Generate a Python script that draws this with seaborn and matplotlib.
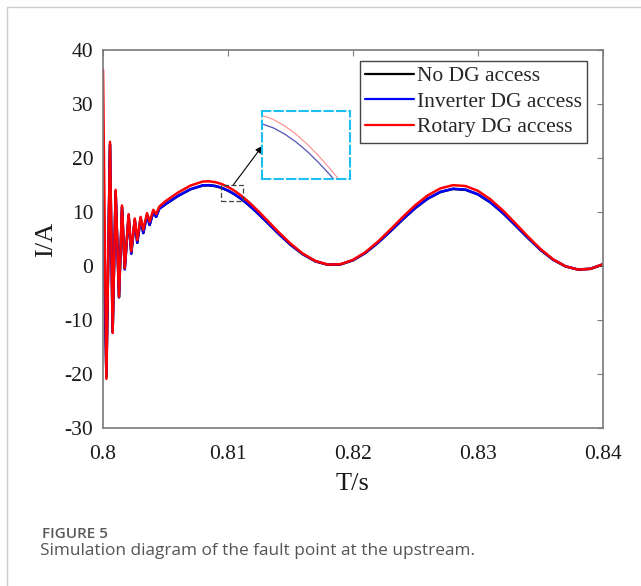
import numpy as np
import pandas as pd
import seaborn as sns
import matplotlib.pyplot as plt
from matplotlib.patches import Rectangle
from matplotlib.lines import Line2D

# 故障后暂态段
t_tr = [0.80000, 0.80027, 0.80056, 0.80077, 0.80101, 0.80128, 0.80152, 0.80174,
        0.80205, 0.80226, 0.80254, 0.80274, 0.80301, 0.80322, 0.80352, 0.80373,
        0.80402, 0.80425, 0.80450]
red_tr = [36.3, -20.9, 23.0, -12.4, 14.1, -5.7, 11.2, -0.4, 9.6, 2.7, 8.8, 4.8,
          9.1, 6.7, 9.8, 8.2, 10.4, 9.6, 11.0]
blue_tr = [13.3, -20.5, 22.5, -12.2, 13.8, -5.8, 10.9, -0.6, 9.3, 2.3, 8.5, 4.3,
           8.8, 6.1, 9.4, 7.6, 10.0, 9.1, 10.6]
black_tr = [13.3, -20.5, 22.5, -12.2, 13.8, -5.8, 10.9, -0.6, 9.3, 2.3, 8.5, 4.3,
            8.8, 6.1, 9.4, 7.6, 10.0, 9.1, 10.6]

# 稳态段
t_main = [0.805, 0.806, 0.807, 0.808, 0.8085, 0.809, 0.8095, 0.810, 0.8105, 0.811,
          0.8115, 0.812, 0.8125, 0.813, 0.814,
          0.815, 0.816, 0.817, 0.818, 0.819, 0.820, 0.821, 0.822, 0.823, 0.824,
          0.825, 0.826, 0.827, 0.828, 0.829, 0.830, 0.831, 0.832, 0.833, 0.834,
          0.835, 0.836, 0.837, 0.838, 0.839, 0.840]
red_main = [12.0, 13.6, 14.9, 15.65, 15.68, 15.52, 15.17, 14.64, 13.96, 13.13,
            12.17, 11.11, 9.98, 8.79, 6.39,
            4.15, 2.28, 0.92, 0.26, 0.33, 1.13, 2.58, 4.53, 6.78, 9.11,
            11.3, 13.11, 14.38, 14.97, 14.81, 13.91, 12.34, 10.27, 7.89, 5.44,
            3.15, 1.26, -0.05, -0.67, -0.52, 0.34]
blue_main = [11.46, 12.99, 14.23, 14.95, 14.97, 14.82, 14.49, 13.98, 13.33, 12.54,
             11.62, 10.61, 9.53, 8.39, 6.10,
             3.96, 2.18, 0.88, 0.25, 0.32, 1.08, 2.46, 4.33, 6.47, 8.70,
             10.79, 12.52, 13.73, 14.30, 14.14, 13.28, 11.78, 9.81, 7.53, 5.20,
             3.01, 1.20, -0.05, -0.64, -0.50, 0.32]
black_main = [11.43, 12.96, 14.20, 14.92, 14.94, 14.79, 14.46, 13.95, 13.30, 12.51,
              11.59, 10.58, 9.50, 8.36, 6.07,
              3.93, 2.15, 0.85, 0.22, 0.29, 1.05, 2.43, 4.30, 6.44, 8.67,
              10.76, 12.49, 13.70, 14.27, 14.11, 13.25, 11.75, 9.78, 7.50, 5.17,
              2.98, 1.17, -0.08, -0.67, -0.53, 0.29]

labels = ['No DG access', 'Inverter DG access', 'Rotary DG access']
colors = ['black', '#0000ff', '#ff0000']
x_ticks = [0.80, 0.81, 0.82, 0.83, 0.84]
x_ticklabels = ['0.8', '0.81', '0.82', '0.83', '0.84']
y_ticks = [-30, -20, -10, 0, 10, 20, 30, 40]

t_all = t_tr + t_main
series = [black_tr + black_main, blue_tr + blue_main, red_tr + red_main]

sns.set_style('white')
plt.rcParams['font.family'] = ['Liberation Serif', 'DejaVu Serif']
plt.rcParams['axes.unicode_minus'] = False

fig = plt.figure(figsize=(6.41, 5.86), dpi=100)
ax = fig.add_axes([0.1607, 0.2696, 0.78, 0.6451])

for lab, col, vals in zip(labels, colors, series):
    sns.lineplot(x=t_all, y=vals, ax=ax, color=col, lw=1.8, sort=False,
                 estimator=None, label=lab)

ax.set_xlim(0.80, 0.84)
ax.set_ylim(-30, 40)
ax.set_xticks(x_ticks)
ax.set_xticklabels(x_ticklabels)
ax.set_yticks(y_ticks)
ax.tick_params(direction='in', length=4, width=0.8, color='#7a7a7a',
               labelcolor='#1a1a1a', labelsize=15.5, pad=7, top=True, right=True)
ax.tick_params(axis='x', pad=12)
for sp in ax.spines.values():
    sp.set_color('#7a7a7a')
    sp.set_linewidth(1.2)
ax.set_xlabel('T/s', fontsize=19, color='#1a1a1a', labelpad=6.5)
ax.set_ylabel('I/A', fontsize=19, color='#1a1a1a', labelpad=5)

handles = [Line2D([], [], color=c, lw=1.6) for c in colors]
leg = ax.legend(handles, labels, loc='upper right', bbox_to_anchor=(0.968, 0.971),
                borderaxespad=0, fontsize=15.5, handlelength=2.3, handletextpad=0.1,
                labelspacing=0.25, borderpad=0.25, fancybox=False, framealpha=1)
leg.get_frame().set_edgecolor('#444444')
leg.get_frame().set_linewidth(1.0)

# 局部放大框
ax.add_patch(Rectangle((0.80944, 12.04), 0.00176, 2.96, fill=False,
                       edgecolor='#444444', lw=0.9, ls=(0, (4, 2)), zorder=5))
ax.annotate('', xy=(262.3 / 641, 1 - 146 / 586), xycoords='figure fraction',
            xytext=(0.81042, 15.0), textcoords='data',
            arrowprops=dict(arrowstyle='-|>', color='black', lw=0.8,
                            mutation_scale=10, shrinkA=0, shrinkB=0))

axin = fig.add_axes([262 / 641, 1 - 179.3 / 586, 88 / 641, 68.6 / 586])
for col, vals in zip(colors, series):
    sns.lineplot(x=t_all, y=vals, ax=axin, color=col, lw=0.8, alpha=0.45,
                 sort=False, estimator=None, legend=False)
axin.set_xlim(0.809, 0.8129)
axin.set_ylim(10.2, 15.9)
axin.set_xticks([])
axin.set_yticks([])
axin.set_xlabel('')
axin.set_ylabel('')
for sp in axin.spines.values():
    sp.set_color('#1fbfef')
    sp.set_linewidth(1.5)
    sp.set_linestyle((0, (4, 2)))

# 外框与图注
fig.add_artist(Line2D([7 / 641, 7 / 641], [0, 1 - 7 / 586], transform=fig.transFigure,
                      color='#cccccc', lw=1))
fig.add_artist(Line2D([7 / 641, 1], [1 - 7 / 586, 1 - 7 / 586], transform=fig.transFigure,
                      color='#cccccc', lw=1))
fig.text(42 / 641, 1 - 537.5 / 586, 'FIGURE 5', family='Open Sans', fontsize=11,
         fontweight='semibold', color='#5a5a5a', va='baseline')
fig.text(40 / 641, 1 - 555 / 586, 'Simulation diagram of the fault point at the upstream.',
         family='Open Sans', fontsize=12.4, color='#555555', va='baseline')

fig.savefig('out.png', dpi=100)
